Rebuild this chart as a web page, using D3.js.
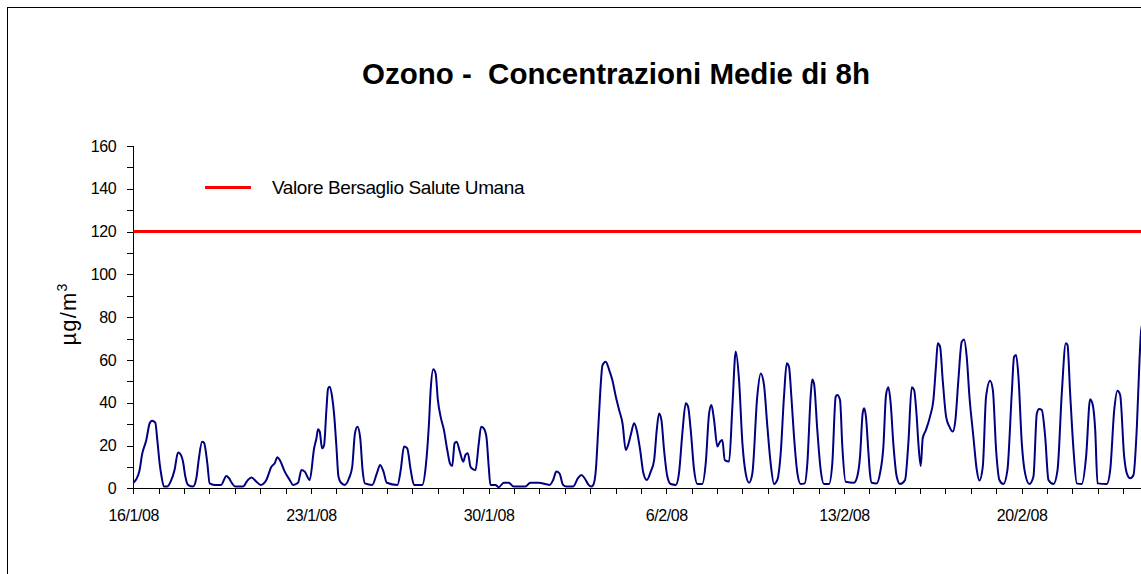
<!DOCTYPE html>
<meta charset='utf-8'>
<style>
body { margin: 0; background: #fff; }
svg { display: block; }
text { font-family: 'Liberation Sans', Arial, sans-serif; fill: #000; }
.axis path, .axis line { stroke: #000; stroke-width: 1px; shape-rendering: crispEdges; }
.axis text { font-size: 16px; letter-spacing: -0.4px; }
path.ozone { fill: none; stroke: #000080; stroke-width: 2px; stroke-linejoin: round; }
line.target { stroke: #ff0000; stroke-width: 3px; }
</style>
<svg width="1141" height="574"></svg>
<script src="https://cdn.jsdelivr.net/npm/d3@7"></script>
<script>

// hours after 16/1/08 00:00 and the 8h mean (µg/m3)
const hourOffsets = [0,2.8,6,8.2,12.3,15.5,17.7,20.8,22.7,24.9,26.5,29,32,35.3,39,42.3,43.8,47,49.2,51.7,56.5,59.6,61.8,65,66.9,70,72.2,77,83,88,90.5,93.4,96.5,103.8,107.9,111.7,116.4,120.5,125.8,130.6,133.7,136.3,138.5,143.2,147.9,151,155.8,159,162.1,166.8,171,173.2,174.7,176.3,178.5,180.4,182.6,184.2,185.8,188,190,192,194,
  196.4,200,204,207,209.6,212,214.6,216.8,219,226,230.3,233.4,236.6,239.7,249.8,252.9,256,259,262.3,265.5,273.3,276.5,279.6,281.2,283.7,285.9,288,290.6,293.7,296.9,299.4,301.6,303.8,305.7,308.8,312,314.1,316.3,318.9,321.4,323.6,326.7,328.9,331.4,333.9,336.1,337.7,342.4,345.5,350.3,355,359.7,370.7,375.4,383.2,
  393.7,397,400,403,406.3,409.5,415.8,420.5,423.6,426.8,430,433,435,437.4,439.6,441.5,443.7,446.8,450,453,456.3,459.4,462.6,465.7,467.9,470.4,473.6,476,479.3,482.4,485.6,489.3,492.5,495,497.2,499.4,501.9,505,508.2,513,516,519.2,522.4,524.6,527.1,530.3,533.4,538,541.3,544.5,546.7,549.2,552.3,554.9,557,559.3,563.4,566.5,569.7,572.8,576,579.1,582.3,585.4,590,593.3,596.4,599.6,602.7,605.9,609,612.2,615.3,617.9,620,622.3,624.8,628,631.1,634.9,637.4,640.5,642,643.7,646.8,650,653.1,657.9,661,664.2,665.7,668.3,670.5,673.6,681.5,684.6,687.2,
  689.7,691,692.8,695,696.6,698.2,702.9,706.1,709.3,711.8,714,716.2,718.7,721.9,725,729.8,732.9,736.1,738.3,740.8,742.4,744.6,746.5,749.6,753.4,756.6,759.1,760.7,762.9,765.4,768.6,771.7,774.9,777.4,780.2,783.4,785.6,788.1,790.7,794.4,797.6,800.1,803.3,806.4,810.2,812.8,815.9,819,822.8,826.6,830.7,832.9,834.8,837,840.2,843.3,847.4,851.2,854.4,856.6,859.1,862.3,865.4,870.2,874,878,881.8,883.4,885.9,889.1,892.2,896.9,901,904.8,907.3,909.6,911.8,920.6,923.8,927.6,930.7,933.2,937,939.5,942.7,945.8,949,951.5,953.1,955];

const ozone8h = [2.6,4.2,8.6,15.6,22.6,30.4,31.6,30.7,22.6,11.7,6.2,0.8,0.8,3.1,8.6,16.7,16.4,12.5,5.5,1.6,0.8,4.7,13.2,21.8,21.3,11.7,2.3,1.6,1.6,5.8,4.7,2.3,0.8,0.8,3.6,5.1,3.1,1.6,3.9,10.1,11.7,14.5,13.2,7.8,3.9,1.6,2.6,8.6,7.8,3.9,18.7,23.4,27.6,26.5,18.7,20.2,36.6,46.7,47.5,42.8,34,20,5.5,
  2.6,1.6,4.7,10,25.7,28.8,23.4,8.6,2.3,1.6,7,10.9,7.8,2.6,1.6,8.6,19.5,18.7,8.6,1.6,1.6,10,30.4,46,55.6,53.7,41.3,33.5,27.3,17.9,11.7,10.4,21,21.8,17.1,12.5,15.6,16.4,10.1,8.9,8.6,21,28.8,28,24.1,10.1,1.6,1.6,0.5,2.6,2.6,0.8,0.8,2.6,2.6,
  1.6,3.9,7.8,7,1.6,0.8,0.8,4.7,6.2,4.7,2,0.8,1.6,8.6,27.3,44.4,57.6,59.2,55.3,50.6,42.8,36.6,30.4,17.9,20.2,24.9,30.4,27.3,17.9,7,3.9,7.8,13.2,27.3,35,31.9,17.9,5.5,2,1.6,7,25.7,39.7,38.2,27.3,8.6,2,2,11.7,35,38.9,31.9,19.5,21.8,22.6,13.2,12.5,38.2,63.9,50.6,21,7,2.6,7,42.8,53.7,48.3,28.8,11.7,2,3.9,16.4,42.8,58.4,56.9,42.8,24.1,7,2,2.3,11.7,42.8,50.9,49,27.3,8.6,2,2,11.7,42.8,43.6,41.3,19.3,3.1,2.6,5.5,14.8,
  35,37.4,33.5,17.9,7,2.6,2.3,7,19.5,43.6,47.2,39.7,21,5.5,2,3.9,21,47.2,46,33.5,21,10.4,23.4,27.3,33.5,41.3,57.6,67.8,66.2,50.6,33.5,28.8,26.5,31.9,50.6,68.5,69.6,61.5,42.8,24.1,8.6,3.6,10.1,42.8,50.3,46,17.9,3.9,2,8.6,44.4,61.5,62.3,52.2,21,7,2,5.5,35,37.1,36.6,24.1,3.9,2,8.6,44.4,67.8,67,44.4,17.9,2.3,2,14.8,41.6,38.9,27.3,2.3,2,8.6,36.6,45.6,43.6,14.8,7,4.7,6.2,28.8,60,74,78];

const targetValue = 120;
const yTickValues = [0, 10, 20, 30, 40, 50, 60, 70, 80, 90, 100, 110, 120, 130, 140, 150, 160];
const dateLabels = ['16/1/08', '23/1/08', '30/1/08', '6/2/08', '13/2/08', '20/2/08'];

const startDate = new Date(2008, 0, 16);
const endDate = new Date(2008, 1, 26);
const dayWidth = 25.38;

const svg = d3.select('svg');

// frame of the chart area (cut on the right and bottom)
svg.append('rect')
  .attr('x', 7.5).attr('y', 7.5)
  .attr('width', 1200).attr('height', 600)
  .attr('fill', '#fff')
  .attr('stroke', '#000');

const x = d3.scaleTime()
  .domain([startDate, endDate])
  .range([133.3, 133.3 + d3.timeDay.count(startDate, endDate) * dayWidth]);

const y = d3.scaleLinear()
  .domain([0, 160])
  .range([488.3, 146]);

const fmt = d3.timeFormat('%-d/%-m/%y');

svg.append('g')
  .attr('class', 'axis')
  .attr('transform', 'translate(0,' + y(0) + ')')
  .call(d3.axisBottom(x)
    .ticks(d3.timeDay.every(1))
    .tickSizeOuter(0)
    .tickSize(6)
    .tickPadding(15)
    .tickFormat(d => dateLabels.includes(fmt(d)) ? fmt(d) : ''));

svg.append('g')
  .attr('class', 'axis')
  .attr('transform', 'translate(' + x(startDate) + ',0)')
  .call(d3.axisLeft(y)
    .tickValues(yTickValues)
    .tickSizeOuter(0)
    .tickSize(6)
    .tickPadding(11)
    .tickFormat(d => d % 20 === 0 ? d : ''));

// target value line
svg.append('line')
  .attr('class', 'target')
  .attr('x1', x(startDate)).attr('x2', 1141)
  .attr('y1', y(targetValue)).attr('y2', y(targetValue));

const points = hourOffsets.map((h, i) => [startDate.getTime() + h * 3600000, ozone8h[i]]);

const line = d3.line()
  .x(d => x(new Date(d[0])))
  .y(d => y(d[1]))
  .curve(d3.curveMonotoneX);

svg.append('path')
  .attr('class', 'ozone')
  .attr('d', line(points));

// legend
svg.append('line')
  .attr('class', 'target')
  .attr('x1', 205).attr('x2', 251)
  .attr('y1', 187.5).attr('y2', 187.5);

svg.append('text')
  .attr('x', 272).attr('y', 194)
  .style('font-size', '19px')
  .style('letter-spacing', '-0.4px')
  .text('Valore Bersaglio Salute Umana');

// title
svg.append('text')
  .attr('x', 616).attr('y', 84)
  .attr('text-anchor', 'middle')
  .attr('xml:space', 'preserve')
  .style('font-size', '29.5px')
  .style('font-weight', 'bold')
  .text('Ozono -  Concentrazioni Medie di 8h');

// y axis title
const yTitle = svg.append('text')
  .attr('transform', 'translate(76,314) rotate(-90)')
  .attr('text-anchor', 'middle')
  .style('font-size', '22px')
  .style('letter-spacing', '1.2px');
yTitle.append('tspan').text('µg/m');
yTitle.append('tspan').attr('dy', -9).style('font-size', '14px').text('3');

</script>
